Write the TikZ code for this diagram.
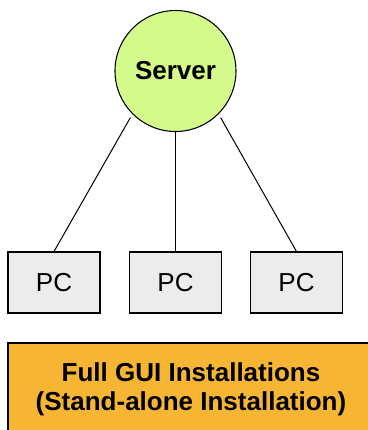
\documentclass[tikz,border=0pt]{standalone}
\usepackage{fontspec}
\setmainfont{Liberation Sans}
\definecolor{servergreen}{RGB}{212,250,140}
\definecolor{pcgray}{RGB}{236,236,236}
\definecolor{guiorange}{RGB}{247,181,52}
\tikzset{
  server/.style={circle, draw, line width=0.8pt, fill=servergreen, minimum size=90.75pt, inner sep=0pt, font=\fontsize{19.5}{23}\selectfont\bfseries},
  pcbox/.style={rectangle, draw, line width=0.8pt, fill=pcgray, minimum width=69pt, minimum height=45.75pt, inner sep=0pt, font=\fontsize{19.5}{23}\selectfont},
  link/.style={line width=0.75pt}
}
\begin{document}
\begin{tikzpicture}[x=0.75pt,y=-0.75pt]
\useasboundingbox (0,0) rectangle (368,430);
\clip (0,0) rectangle (368,430);
\node[server] (srv) at (175.5,71) {Server};
\node[pcbox] (pc1) at (54,282.5) {PC};
\node[pcbox] (pc2) at (175.5,282.5) {PC};
\node[pcbox] (pc3) at (296.5,282.5) {PC};
\draw[link, shorten <=3pt] (srv.225) -- (pc1.north);
\draw[link] (srv.south) -- (pc2.north);
\draw[link, shorten <=3pt] (srv.-45) -- (pc3.north);
% orange banner runs off the page
\draw[line width=0.8pt, fill=guiorange] (8,343) rectangle (374,445);
\node[align=center, font=\fontsize{19.5}{22}\selectfont\bfseries] (gui) at (191,389)
  {Full GUI Installations\\(Stand-alone Installation)};
\end{tikzpicture}
\end{document}
